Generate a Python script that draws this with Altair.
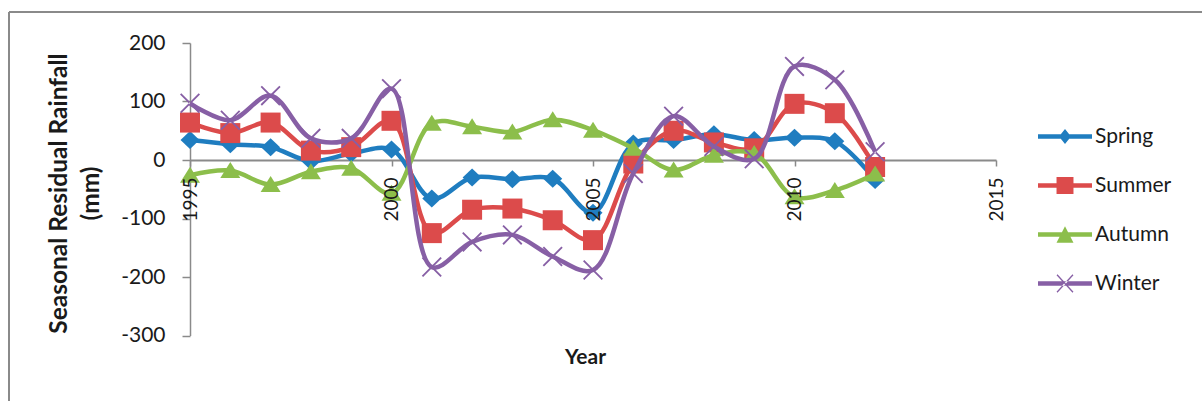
import altair as alt
import pandas as pd

years = [1995, 1996, 1997, 1998, 1999, 2000, 2001, 2002, 2003, 2004, 2005,
         2006, 2007, 2008, 2009, 2010, 2011, 2012]
spring = [34, 27, 22, -2, 11, 18, -66, -30, -33, -32, -90, 28, 34, 44, 34, 38, 32, -34]
summer = [64, 46, 64, 16, 22, 67, -125, -85, -83, -103, -137, -6, 50, 30, 20, 96, 80, -12]
autumn = [-26, -18, -42, -20, -14, -57, 63, 57, 48, 69, 51, 20, -17, 8, 11, -63, -52, -24]
winter = [97, 68, 110, 37, 37, 122, -183, -140, -128, -165, -188, -23, 75, 23, 2, 160, 137, 14]

seasons = ["Spring", "Summer", "Autumn", "Winter"]
colors = ["#1F7DC0", "#DC4B4B", "#8CBE4B", "#875FA5"]
y_ticks = [-300, -200, -100, 0, 100, 200]
x_ticks = [1995, 2000, 2005, 2010, 2015]

# marker shapes (unit box -1..1)
marker_paths = [
    "M0,-0.9L0.95,0L0,0.9L-0.95,0Z",
    "M-1,-1H1V1H-1Z",
    "M0,-0.85L1,0.75L-1,0.75Z",
    "M-1,-0.87L-0.87,-1L1,0.87L0.87,1Z M1,-0.87L0.87,-1L-1,0.87L-0.87,1Z",
]
bar = "M-3.6,-0.3H3.6V0.3H-3.6Z "
legend_paths = [
    bar + "M0,-1L0.8,0L0,1L-0.8,0Z",
    bar + "M-1.13,-1.13H1.13V1.13H-1.13Z",
    bar + "M0,-1.1L1.13,1.1L-1.13,1.1Z",
    bar + "M-1.13,-1.1L-1.0,-1.23L1.13,1.1L1.0,1.23Z M1.13,-1.1L1.0,-1.23L-1.13,1.1L-1.0,1.23Z",
]

rows = []
for name, vals in zip(seasons, [spring, summer, autumn, winter]):
    for yr, v in zip(years, vals):
        rows.append({"year": yr, "value": v, "season": name})
df = pd.DataFrame(rows)

W, H = 806, 292.5
FONT = "Lato"
TXT = "#1a1a1a"
GRAY = "#8a8a8a"

x_scale = alt.Scale(domain=[1995, 2015], nice=False, zero=False)
# axis line, ticks and title (under the data)
x_axis_under = alt.Axis(values=x_ticks, labels=False, tickSize=6, orient="bottom",
                        tickColor=GRAY, domainColor=GRAY, domainWidth=2, tickWidth=1.5,
                        grid=False, offset=-(H * 0.6),
                        title="Year", titleFont=FONT, titleFontSize=21, titleFontWeight="bold",
                        titleColor=TXT, titleBaseline="middle", titleY=197, titleX=395)
# tick labels (drawn above the data)
x_axis_over = alt.Axis(values=x_ticks, format="d", labelAngle=270, labelFontSize=19,
                       labelFont=FONT, labelColor=TXT, labelPadding=17, ticks=False,
                       domain=False, grid=False, orient="bottom", offset=-(H * 0.6),
                       labelFlush=False, labelOverlap=False, title=None, zindex=1)

y_enc = alt.Y("value:Q", scale=alt.Scale(domain=[-300, 200], nice=False),
              axis=alt.Axis(values=y_ticks, labelExpr="'' + datum.value", labelFontSize=21,
                            labelFont=FONT, labelColor=TXT,
                            labelPadding=17, tickSize=8, tickColor=GRAY, domainColor=GRAY,
                            domainWidth=1.5, tickWidth=1.5, grid=False,
                            title=["Seasonal Residual Rainfall", "(mm)"], titleFont=FONT,
                            titleFontSize=24.5, titleFontWeight="bold", titleColor=TXT,
                            titleAngle=270, titleAlign="center", titleBaseline="bottom",
                            titleLineHeight=32, titleX=-119, titleY=150))

base = alt.Chart(df)
layers = []
for i, (name, col, path) in enumerate(zip(seasons, colors, marker_paths)):
    sub = base.transform_filter(alt.datum.season == name)
    if i == 0:
        xe = alt.X("year:Q", scale=x_scale, axis=x_axis_under)
        ye = y_enc
    else:
        xe = alt.X("year:Q", scale=x_scale, axis=None)
        ye = alt.Y("value:Q")
    layers.append(sub.mark_line(interpolate="catmull-rom", strokeWidth=4.5, color=col).encode(
        x=xe, y=ye, order=alt.Order("year:Q")))
    layers.append(sub.mark_point(filled=True, size=400, opacity=1, strokeWidth=0,
                                 color=col, shape=path).encode(
        x=alt.X("year:Q", axis=None), y=alt.Y("value:Q")))

leg = alt.Legend(title=None, orient="none", legendX=864.5, legendY=83,
                 symbolSize=225, labelFont=FONT, labelFontSize=21,
                 labelColor=TXT, labelOffset=19.5, rowPadding=27,
                 padding=0, symbolStrokeWidth=0)
legend_layer = base.transform_filter("datum.value > 100000").mark_point(
    filled=True, opacity=1, strokeWidth=0, size=225).encode(
    x=alt.X("year:Q", scale=x_scale, axis=x_axis_over),
    y=alt.Y("value:Q"),
    color=alt.Color("season:N", scale=alt.Scale(domain=seasons, range=colors), legend=leg),
    shape=alt.Shape("season:N", scale=alt.Scale(domain=seasons, range=legend_paths), legend=leg),
)

frame_data = alt.Data(values=[{}])
frame_top = alt.Chart(frame_data).mark_rule(color=GRAY, strokeWidth=2).encode(
    x=alt.value(-181), x2=alt.value(1100), y=alt.value(-31))
frame_left = alt.Chart(frame_data).mark_rule(color=GRAY, strokeWidth=2).encode(
    x=alt.value(-181), y=alt.value(-31), y2=alt.value(400))

chart = alt.layer(frame_top, frame_left, *layers, legend_layer).resolve_axis(
    x="independent"
).properties(
    width=W, height=H,
    autosize=alt.AutoSizeParams(type="none"),
    padding={"left": 190, "top": 43, "right": 206, "bottom": 65.5},
    background="white",
).configure_view(stroke=None)

chart.save("out.html", embed_options={"renderer": "svg", "actions": False})
